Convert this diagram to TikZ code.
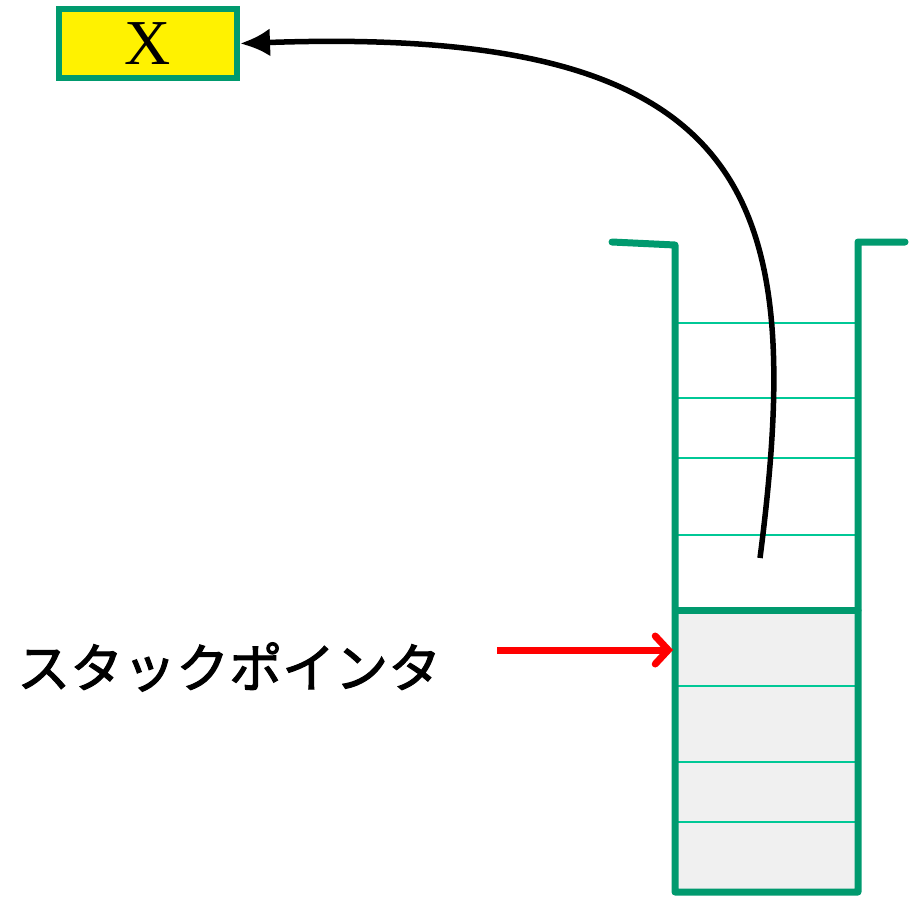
\documentclass[tikz,border=0pt]{standalone}
\usepackage{fontspec}
\setmainfont{Liberation Serif}
\newfontfamily\cjk[FakeBold=2]{Noto Sans CJK JP}
\usetikzlibrary{arrows.meta}
\definecolor{wallgreen}{HTML}{009A6E}
\definecolor{linegreen}{HTML}{00C896}
\definecolor{cellgray}{HTML}{F0F0F0}
\tikzset{
  wall/.style={draw=wallgreen, line width=7pt, line join=round, line cap=round},
  slot/.style={draw=linegreen, line width=2.5pt},
  xbox/.style={draw=wallgreen, fill=yellow, line width=6pt, minimum width=178pt, minimum height=69pt, inner sep=0pt, font=\fontsize{64}{68}\selectfont},
}
\begin{document}
\begin{tikzpicture}[x=1pt,y=-1pt]
\useasboundingbox (0,0) rectangle (909,897);
% stored value box
\node[xbox] (xb) at (148,43.5) {X};
% filled part of stack
\fill[cellgray] (676,610) rectangle (858,892);
% slots
\foreach \yy in {323,398,458,535,686,762,822} {
  \draw[slot] (676,\yy) -- (857,\yy);
}
% walls
\draw[wall] (612,242) -- (675,245) -- (675,892) -- (858,892) -- (858,242) -- (905,242);
\draw[wall] (676,610) -- (858,610);
% pop arrow
\coordinate (pop) at (760,558);
\draw[line width=5.5pt, -{Latex[length=30pt,width=28pt]}] (pop) .. controls (806,200) and (760,25) .. (xb.east);
% stack pointer
\node[font=\cjk\fontsize{53}{58}\selectfont, anchor=west, inner sep=0pt] (sp) at (17,667) {スタックポインタ};
\coordinate (spstart) at (497,650);
\coordinate (spend) at (673,650);
\draw[red, line width=7pt, -{Straight Barb[length=13pt,width=28pt,line cap=round]}] (spstart) -- (spend);
\end{tikzpicture}
\end{document}
